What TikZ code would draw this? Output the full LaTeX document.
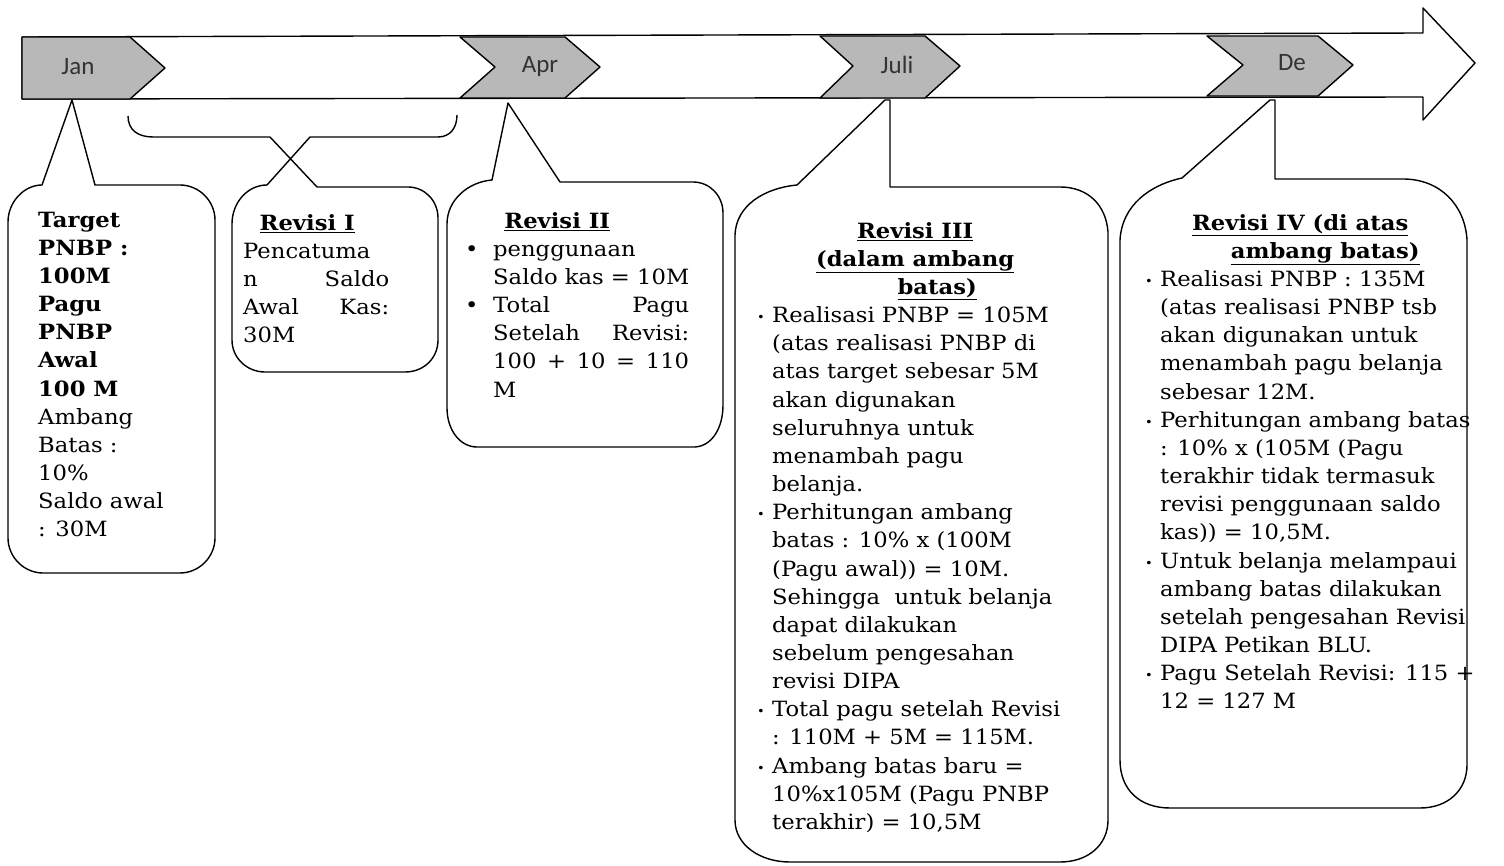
\documentclass[tikz,border=0pt]{standalone}
\usepackage{fontspec}
\setmainfont[FakeStretch=1.08]{DejaVu Serif}
\newfontfamily\monthfont{Carlito}
\newcommand{\xB}{\makebox[28pt][l]{•}}
\newcommand{\xI}{\hspace*{28pt}}
\newcommand{\xSB}{\makebox[15pt][l]{\raisebox{1pt}{\fontsize{12}{12}\selectfont •}}}
\newcommand{\xSI}{\hspace*{15pt}}
\newcommand{\xF}{\rule{0pt}{20pt}}
\newcommand{\xT}[1]{\underline{\textbf{#1}}}
\begin{document}
\begin{tikzpicture}[x=1pt,y=-1pt,
  ln/.style={line width=1.4pt, black, line join=round},
  chev/.style={ln, fill=black!28},
  month/.style={font=\monthfont\fontsize{25}{25}\selectfont, text=black!80, inner sep=0pt},
  txt/.style={font=\fontsize{21}{28.15}\selectfont, align=left, inner sep=0pt, anchor=north west}]
\useasboundingbox (0,0) rectangle (1504,866);
\fill[white] (0,0) rectangle (1504,866);
% timeline arrow
\draw[ln] (22,37) -- (1423,33) -- (1423,8) -- (1475,63) -- (1423,120) -- (1423,97) -- (22,99) -- cycle;
% month chevrons
\draw[chev] (22,37) -- (130,37) -- (165,68) -- (130,99) -- (22,99) -- cycle;
\draw[chev] (460,37) -- (565,37) -- (600,67) -- (565,98) -- (460,98) -- (495,67) -- cycle;
\draw[chev] (820,36) -- (925,36) -- (960,66) -- (925,98) -- (820,98) -- (853,66) -- cycle;
\draw[chev] (1207,36) -- (1318,36) -- (1353,65) -- (1318,96) -- (1207,96) -- (1243,65) -- cycle;
\node[month] (mjan) at (78,67) {Jan};
\node[month] (mapr) at (540,66) {Apr};
\node[month] (mjul) at (897,65) {Juli};
\node[month] (mdec) at (1292,63) {De};
% callout Jan
\draw[ln] (72,100) -- (95,185) -- (180,185) .. controls (199,185) and (215,201) .. (215,220)
  -- (215,538) .. controls (215,557) and (199,573) .. (180,573) -- (43,573)
  .. controls (24,573) and (8,557) .. (8,538) -- (8,222) .. controls (8,202) and (24,185) .. (42,185) -- cycle;
% callout Revisi I (brace)
\draw[ln] (128,116) .. controls (128,130) and (138,137) .. (153,137) -- (270,137) -- (317,187) -- (408,187)
  .. controls (425,187) and (438,201) .. (438,218) -- (438,340) .. controls (438,358) and (424,372) .. (405,372)
  -- (265,372) .. controls (247,372) and (232,358) .. (232,340) -- (232,224)
  .. controls (232,202) and (248,185) .. (267,185) -- (310,137) -- (438,137)
  .. controls (450,137) and (457,128) .. (457,115);
% callout Revisi II
\draw[ln] (508,103) -- (560,182) -- (693,182) .. controls (710,182) and (723,196) .. (723,213)
  -- (723,405) .. controls (723,428) and (712,446) .. (695,447) -- (477,447)
  .. controls (460,447) and (447,430) .. (447,408) -- (447,224) .. controls (447,200) and (468,182) .. (492,180) -- cycle;
% callout Revisi III
\draw[ln] (885,100) -- (797,185) .. controls (765,188) and (736,205) .. (735,235) -- (735,820)
  .. controls (735,845) and (760,862) .. (790,862) -- (1060,862) .. controls (1088,862) and (1108,845) .. (1108,820)
  -- (1108,232) .. controls (1106,205) and (1088,187) .. (1060,187) -- (890,187) -- (890,100) -- cycle;
% callout Revisi IV
\draw[ln] (1270,100) -- (1182,178) .. controls (1150,185) and (1122,205) .. (1120,240) -- (1120,760)
  .. controls (1120,790) and (1140,808) .. (1170,808) -- (1420,808) .. controls (1448,808) and (1467,790) .. (1467,765)
  -- (1467,240) .. controls (1465,205) and (1440,179) .. (1403,179) -- (1275,179) -- (1275,100) -- cycle;
% texts
\node[txt] (tjan) at (38,207) {\xF\textbf{Target}\\ \textbf{PNBP :}\\ \textbf{100M}\\ \textbf{Pagu}\\ \textbf{PNBP}\\ \textbf{Awal}\\ \textbf{100 M}\\ Ambang\\ Batas :\\ 10\%\\ Saldo awal\\ : 30M};
\node[txt] (trev1) at (243,210) {\xF\makebox[128pt][c]{\xT{Revisi I}}\\ Pencatuma\\ \hbox to 146pt{n\hfill Saldo}\\ \hbox to 146pt{Awal\hfill Kas:}\\ 30M};
\node[txt] (trev2) at (465,208) {\xF\makebox[184pt][c]{\xT{Revisi II}}\\ \xB penggunaan\\ \xI Saldo kas = 10M\\ \xB\hbox to 196pt{Total\hfill Pagu}\\ \xI\hbox to 196pt{Setelah\hfill Revisi:}\\ \xI\hbox to 196pt{100\hfill +\hfill 10\hfill =\hfill 110}\\ \xI M};
\node[txt] (trev3) at (757,218) {\xF\makebox[316pt][c]{\xT{Revisi III}}\\ \makebox[316pt][c]{\xT{(dalam ambang}}\\ \makebox[316pt][c]{\hspace*{44pt}\xT{batas)}}\\
 \xSB Realisasi PNBP = 105M\\ \xSI (atas realisasi PNBP di\\ \xSI atas target sebesar 5M\\ \xSI akan digunakan\\ \xSI seluruhnya untuk\\ \xSI menambah pagu\\ \xSI belanja.\\
 \xSB Perhitungan ambang\\ \xSI batas : 10\% x (100M\\ \xSI (Pagu awal)) = 10M.\\ \xSI Sehingga~ untuk belanja\\ \xSI dapat dilakukan\\ \xSI sebelum pengesahan\\ \xSI revisi DIPA\\
 \xSB Total pagu setelah Revisi\\ \xSI : 110M + 5M = 115M.\\ \xSB Ambang batas baru =\\ \xSI 10\%x105M (Pagu PNBP\\ \xSI terakhir) = 10,5M};
\node[txt] (trev4) at (1145,210) {\xF\makebox[310pt][c]{\xT{Revisi IV (di atas}}\\ \makebox[310pt][c]{\hspace*{50pt}\xT{ambang batas)}}\\
 \xSB Realisasi PNBP : 135M\\ \xSI (atas realisasi PNBP tsb\\ \xSI akan digunakan untuk\\ \xSI menambah pagu belanja\\ \xSI sebesar 12M.\\
 \xSB Perhitungan ambang batas\\ \xSI : 10\% x (105M (Pagu\\ \xSI terakhir tidak termasuk\\ \xSI revisi penggunaan saldo\\ \xSI kas)) = 10,5M.\\
 \xSB Untuk belanja melampaui\\ \xSI ambang batas dilakukan\\ \xSI setelah pengesahan Revisi\\ \xSI DIPA Petikan BLU.\\
 \xSB Pagu Setelah Revisi: 115 +\\ \xSI 12 = 127 M};
\end{tikzpicture}
\end{document}
